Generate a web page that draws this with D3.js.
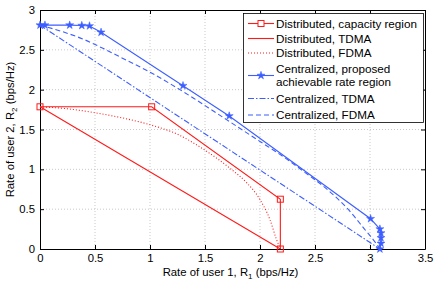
<!DOCTYPE html>
<html>
<head>
<meta charset="utf-8">
<script src="https://cdn.jsdelivr.net/npm/d3@7"></script>
<style>
  body { margin: 0; background: #fff; }
  svg text { font-family: "Liberation Sans", Arial, sans-serif; }
</style>
</head>
<body>
<div id="chart"></div>
<script>
// data
var capacityX = [0, 1.015, 2.185, 2.185];
var capacityY = [1.785, 1.785, 0.625, 0];
var distTdmaX = [0, 2.185];
var distTdmaY = [1.785, 0];
var distFdmaX = [0, 0.25, 0.5, 0.75, 1.0, 1.25, 1.5, 1.73, 1.88, 2.0, 2.09, 2.15, 2.185];
var distFdmaY = [1.785, 1.76, 1.71, 1.645, 1.56, 1.44, 1.24, 1.01, 0.83, 0.62, 0.37, 0.12, 0];
var propX = [0, 0.045, 0.27, 0.38, 0.45, 0.555, 1.30, 1.72, 3.005, 3.09, 3.10, 3.10, 3.10, 3.09];
var propY = [2.81, 2.81, 2.81, 2.805, 2.80, 2.72, 2.05, 1.67, 0.38, 0.25, 0.20, 0.14, 0.07, 0];
var centTdmaX = [0, 3.09];
var centTdmaY = [2.81, 0];
var centFdmaX = [0, 0.2, 0.4, 0.6, 0.8, 1.0, 1.2, 1.4, 1.6, 1.8, 2.0, 2.2, 2.4, 2.6, 2.8, 2.95, 3.05, 3.09];
var centFdmaY = [2.81, 2.73, 2.63, 2.5, 2.36, 2.22, 2.06, 1.89, 1.71, 1.53, 1.35, 1.17, 0.97, 0.76, 0.5, 0.25, 0.08, 0];
var xTicks = [0, 0.5, 1, 1.5, 2, 2.5, 3, 3.5];
var yTicks = [0, 0.5, 1, 1.5, 2, 2.5, 3];

var red = "#ff1a1a";
var blue = "#3d5eff";
var fs = 11.3;
var legendFs = 11.7;

var svgWidth = 436, svgHeight = 286;
var margin = {top: 10, right: 11, bottom: 37, left: 40};
var width = svgWidth - margin.left - margin.right;
var height = svgHeight - margin.top - margin.bottom;

var svg = d3.select("#chart").append("svg")
  .attr("width", svgWidth)
  .attr("height", svgHeight);

var g = svg.append("g")
  .attr("transform", `translate(${margin.left}, ${margin.top})`);

var x = d3.scaleLinear().domain([0, 3.5]).range([0, width]);
var y = d3.scaleLinear().domain([0, 3]).range([height, 0]);

// grid
g.selectAll(".gx").data(xTicks.slice(1, -1)).enter().append("line")
  .attr("x1", d => x(d)).attr("x2", d => x(d))
  .attr("y1", 0).attr("y2", height)
  .attr("stroke", "#bbb").attr("stroke-width", 0.8).attr("stroke-dasharray", "1,2");
g.selectAll(".gy").data(yTicks.slice(1, -1)).enter().append("line")
  .attr("y1", d => y(d)).attr("y2", d => y(d))
  .attr("x1", 0).attr("x2", width)
  .attr("stroke", "#bbb").attr("stroke-width", 0.8).attr("stroke-dasharray", "1,2");

// axes
var fmt = d => String(d);
g.append("g").attr("transform", `translate(0, ${height})`)
  .call(d3.axisBottom(x).tickValues(xTicks).tickFormat(fmt).tickSizeInner(-4).tickSizeOuter(0).tickPadding(5));
g.append("g")
  .call(d3.axisLeft(y).tickValues(yTicks).tickFormat(fmt).tickSizeInner(-4).tickSizeOuter(0).tickPadding(5));
g.append("g")
  .call(d3.axisTop(x).tickValues(xTicks).tickFormat("").tickSizeInner(-4).tickSizeOuter(0));
g.append("g").attr("transform", `translate(${width}, 0)`)
  .call(d3.axisRight(y).tickValues(yTicks).tickFormat("").tickSizeInner(-4).tickSizeOuter(0));
g.selectAll(".domain").attr("stroke", "#000").attr("stroke-width", 1);
g.selectAll(".tick line").attr("stroke", "#000");
g.selectAll(".tick text").attr("font-size", fs).attr("fill", "#000")
  .attr("font-family", "Liberation Sans, Arial, sans-serif");

function pts(xs, ys) { return xs.map((v, i) => [v, ys[i]]); }
var line = d3.line().x(d => x(d[0])).y(d => y(d[1]));
var curve = d3.line().x(d => x(d[0])).y(d => y(d[1])).curve(d3.curveMonotoneX);

var series = [
  {p: pts(centTdmaX, centTdmaY), c: blue, dash: "6,2,1.5,2", gen: line},
  {p: pts(centFdmaX, centFdmaY), c: blue, dash: "5,3", gen: curve},
  {p: pts(propX, propY), c: blue, dash: null, gen: line},
  {p: pts(distTdmaX, distTdmaY), c: red, dash: null, gen: line},
  {p: pts(distFdmaX, distFdmaY), c: red, dash: "1,2", gen: curve},
  {p: pts(capacityX, capacityY), c: red, dash: null, gen: line}
];
series.forEach(function(s) {
  g.append("path").attr("d", s.gen(s.p))
    .attr("fill", "none").attr("stroke", s.c).attr("stroke-width", 1.1)
    .attr("stroke-dasharray", s.dash);
});

var star = d3.symbol().type(d3.symbolStar).size(20);
g.selectAll(".star").data(pts(propX, propY)).enter().append("path")
  .attr("d", star)
  .attr("transform", d => `translate(${x(d[0])}, ${y(d[1])})`)
  .attr("fill", blue).attr("stroke", blue).attr("stroke-width", 0.5);

g.selectAll(".sq").data(pts(capacityX, capacityY)).enter().append("rect")
  .attr("x", d => x(d[0]) - 3).attr("y", d => y(d[1]) - 3)
  .attr("width", 6).attr("height", 6)
  .attr("fill", "none").attr("stroke", red).attr("stroke-width", 1);

// axis labels
var xl = svg.append("text")
  .attr("x", margin.left + width / 2 - 2).attr("y", 276)
  .attr("text-anchor", "middle").attr("font-size", fs);
xl.append("tspan").text("Rate of user 1, R");
xl.append("tspan").attr("font-size", 8).attr("dy", 3).text("1");
xl.append("tspan").attr("dy", -3).text(" (bps/Hz)");

var yl = svg.append("text")
  .attr("transform", `translate(14, ${margin.top + height / 2}) rotate(-90)`)
  .attr("text-anchor", "middle").attr("font-size", fs);
yl.append("tspan").text("Rate of user 2, R");
yl.append("tspan").attr("font-size", 8).attr("dy", 3).text("2");
yl.append("tspan").attr("dy", -3).text(" (bps/Hz)");

// legend
var legendLabels = [["Distributed, capacity region"], ["Distributed, TDMA"], ["Distributed, FDMA"],
  ["Centralized, proposed", "achievable rate region"], ["Centralized, TDMA"], ["Centralized, FDMA"]];
var legendStyle = [
  {c: red, dash: null, m: "sq"}, {c: red, dash: null}, {c: red, dash: "1,2"},
  {c: blue, dash: null, m: "star"}, {c: blue, dash: "6,2,1.5,2"}, {c: blue, dash: "5,3"}
];
var legendY = [23.5, 38.5, 53, 75.5, 98.5, 115];
var lg = svg.append("g");
lg.append("rect").attr("x", 243.5).attr("y", 13.5).attr("width", 180).attr("height", 109)
  .attr("fill", "#fff").attr("stroke", "#000").attr("stroke-width", 0.8);
legendLabels.forEach(function(lab, i) {
  var st = legendStyle[i], yy = legendY[i];
  lg.append("line").attr("x1", 248).attr("x2", 274).attr("y1", yy).attr("y2", yy)
    .attr("stroke", st.c).attr("stroke-width", 1.1).attr("stroke-dasharray", st.dash);
  if (st.m === "sq") {
    lg.append("rect").attr("x", 258).attr("y", yy - 3).attr("width", 6).attr("height", 6)
      .attr("fill", "#fff").attr("stroke", st.c);
  } else if (st.m === "star") {
    lg.append("path").attr("d", star).attr("transform", `translate(261, ${yy})`)
      .attr("fill", st.c).attr("stroke", st.c).attr("stroke-width", 0.5);
  }
  var t = lg.append("text").attr("x", 276).attr("font-size", legendFs);
  if (lab.length === 1) {
    t.attr("y", yy + 4).text(lab[0]);
  } else {
    t.attr("y", yy - 2.5).text(lab[0]);
    lg.append("text").attr("x", 276).attr("y", yy + 10).attr("font-size", legendFs).text(lab[1]);
  }
});
</script>
</body>
</html>
